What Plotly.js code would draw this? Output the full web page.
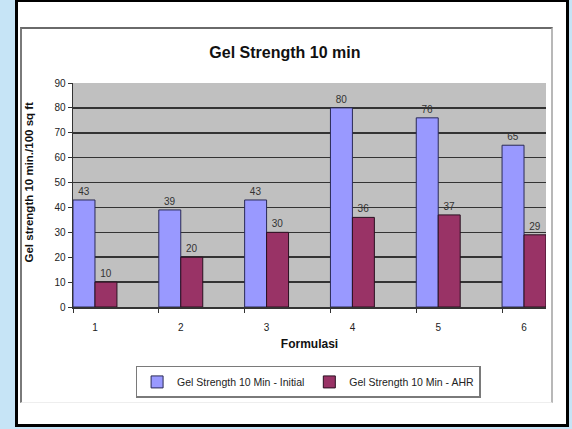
<!DOCTYPE html>
<html>
<head>
<meta charset="utf-8">
<script src="https://cdn.plot.ly/plotly-3.0.1.min.js"></script>
<style>
  html, body { margin: 0; padding: 0; }
  body { width: 572px; height: 429px; background: #c6e4f6; position: relative; overflow: hidden; }
  #frame { position: absolute; left: 15px; top: -1px; width: 548px; height: 422px; background: #ffffff; border: 3px solid #000000; }
  #chartArea { position: absolute; left: 20px; top: 27px; width: 529px; height: 373px; border-left: 2px solid #7a7a7a; border-top: 2px solid #6a6a6a; border-right: 2px solid #b8b8b8; border-bottom: 1px solid #eeeeee; }
  #chart { position: absolute; left: 0; top: 0; width: 572px; height: 429px; }
</style>
</head>
<body>
<div id="frame"></div>
<div id="chartArea"></div>
<div id="chart"></div>
<script>
// Formulations on the x axis and the two gel-strength series (lb/100 sq ft)
const categories = [1, 2, 3, 4, 5, 6];
const initialValues = [43, 39, 43, 80, 76, 65];
const ahrValues = [10, 20, 30, 36, 37, 29];
const yTickValues = [0, 10, 20, 30, 40, 50, 60, 70, 80, 90];

const seriesNames = ['Gel Strength 10 Min - Initial', 'Gel Strength 10 Min - AHR'];
const FONT = 'Liberation Sans, Arial, sans-serif';
const BAR_W = 0.256;

const initialTrace = {
  type: 'bar',
  name: seriesNames[0],
  x: categories,
  y: initialValues,
  offset: -BAR_W,
  width: BAR_W,
  marker: { color: '#9999ff', line: { color: '#2a2a55', width: 1 } },
  text: initialValues.map(String),
  textposition: 'outside',
  textfont: { family: FONT, size: 10, color: '#333333' },
  cliponaxis: false
};

const ahrTrace = {
  type: 'bar',
  name: seriesNames[1],
  x: categories,
  y: ahrValues,
  offset: 0,
  width: BAR_W,
  marker: { color: '#993366', line: { color: '#2a1020', width: 1 } },
  text: ahrValues.map(String),
  textposition: 'outside',
  textfont: { family: FONT, size: 10, color: '#333333' },
  cliponaxis: false
};

// Category boundaries carry the small tick marks under the axis
const boundaries = categories.map(c => +(c - BAR_W).toFixed(3));

const layout = {
  width: 572,
  height: 429,
  paper_bgcolor: 'rgba(0,0,0,0)',
  plot_bgcolor: '#c0c0c0',
  margin: { l: 73, r: 26, t: 83, b: 122, pad: 0 },
  barmode: 'overlay',
  font: { family: FONT, color: '#222222' },
  title: {
    text: '<b>Gel Strength 10 min</b>',
    font: { family: FONT, size: 16, color: '#111111' },
    xref: 'container', yref: 'container',
    x: 0.498, y: 0.879, xanchor: 'center', yanchor: 'middle'
  },
  xaxis: {
    range: [categories[0] - BAR_W, categories[categories.length - 1] + BAR_W],
    tickmode: 'array',
    tickvals: categories,
    ticktext: categories.map(String),
    ticks: 'outside',
    ticklen: 10,
    tickcolor: 'rgba(0,0,0,0)',
    minor: { tickmode: 'array', tickvals: boundaries, ticks: 'outside', ticklen: 4, tickwidth: 1, tickcolor: '#333333', showgrid: false },
    tickfont: { family: FONT, size: 10, color: '#222222' },
    showgrid: false,
    zeroline: false,
    showline: true,
    linecolor: '#333333',
    linewidth: 1.5,
    title: { text: '<b>Formulasi</b>', font: { family: FONT, size: 12, color: '#111111' }, standoff: 8 }
  },
  yaxis: {
    range: [0, 90],
    tickmode: 'array',
    tickvals: yTickValues,
    ticktext: yTickValues.map(String),
    ticks: 'outside',
    ticklen: 4,
    tickcolor: '#333333',
    tickfont: { family: FONT, size: 10, color: '#222222' },
    showgrid: true,
    gridcolor: '#333333',
    gridwidth: 1.6,
    zeroline: false,
    showline: true,
    linecolor: '#333333',
    linewidth: 1.5
  },
  annotations: [{
    text: '<b>Gel strength 10 min./100 sq ft</b>',
    xref: 'paper', yref: 'paper',
    x: -0.092, y: 0.558,
    xanchor: 'center', yanchor: 'middle',
    textangle: -90,
    showarrow: false,
    font: { family: FONT, size: 11.5, color: '#111111' }
  }],
  showlegend: true,
  legend: {
    orientation: 'h',
    x: 0.497, xanchor: 'center',
    y: -0.263, yanchor: 'top',
    bgcolor: '#ffffff',
    bordercolor: '#7a7a7a',
    borderwidth: 1.5,
    font: { family: FONT, size: 10.5, color: '#222222' },
    itemwidth: 30,
    traceorder: 'normal'
  }
};

Plotly.newPlot('chart', [initialTrace, ahrTrace], layout, { displayModeBar: false, staticPlot: true });
</script>
</body>
</html>
